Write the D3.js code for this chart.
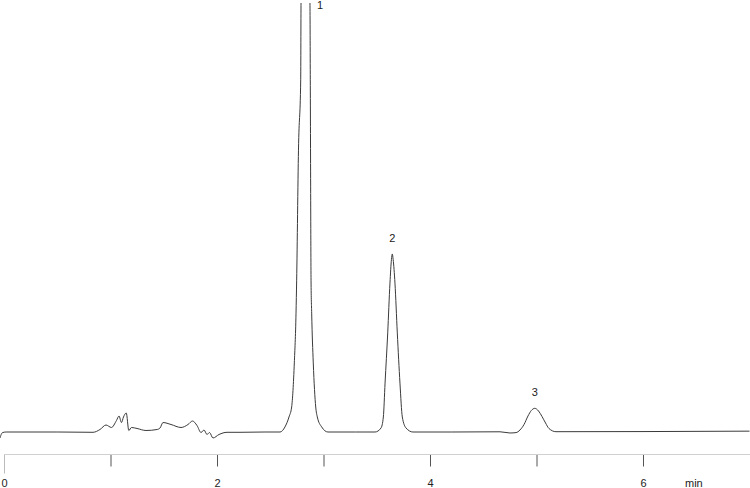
<!DOCTYPE html>
<html>
<head>
<meta charset="utf-8">
<script src="https://cdn.jsdelivr.net/npm/d3@7"></script>
<style>
  body { margin: 0; background: #fff; }
  text { font-family: "Liberation Sans", Arial, sans-serif; fill: #222; }
</style>
</head>
<body>
<div id="chart"></div>
<script>
const traceTime = [
  -0.038, -0.030, -0.015, 0.020, 0.500, 0.836,
  0.901, 0.958, 1.009, 1.056, 1.080, 1.103, 1.122, 1.148, 1.172, 1.197, 1.249,
  1.333, 1.437, 1.465, 1.493, 1.568, 1.662, 1.728, 1.770, 1.812, 1.850, 1.878,
  1.906, 1.930, 1.962, 2.019, 2.094, 2.216, 2.450,
  2.592, 2.638, 2.676, 2.701, 2.726, 2.742, 2.748, 2.765, 2.786, 2.789, 2.831,
  2.873, 2.876, 2.883, 2.889, 2.904, 2.927, 2.942, 2.983, 3.042,
  3.300, 3.484, 3.540, 3.562, 3.578, 3.603, 3.624, 3.638, 3.646, 3.654, 3.671,
  3.693, 3.718, 3.740, 3.775, 3.840,
  4.200, 4.657, 4.751, 4.808, 4.845, 4.883, 4.920, 4.951, 4.984, 5.019, 5.052,
  5.085, 5.117, 5.183, 6.000, 7.000
];
const traceSignal = [
  -1.4, -0.8, -0.15, 0, 0, -0.07,
  0.58, 1.63, 1.05, 2.68, 3.73, 2.21, 3.50, 4.43, 0.35, 1.05, 0.82,
  0.35, 0.58, 0.93, 2.21, 1.75, 1.05, 1.75, 2.56, 1.52, -0.12, 0.47,
  -0.58, -0.12, -1.40, -0.58, -0.07, -0.07, 0,
  0, 1.17, 3.5, 5.83, 16.1, 27.7, 35.4, 65.7, 82.1, 100, 150,
  100, 82.1, 35.4, 27.7, 16.1, 5.83, 3.5, 1.17, 0,
  0, 0, 0.93, 3.5, 11.4, 23.1, 34.7, 40.2, 41.5, 40.2, 34.7,
  23.1, 11.4, 3.5, 0.93, 0,
  0, 0.05, -0.23, -0.14, 0.47, 1.75, 3.73, 5.0, 5.52, 4.9, 3.6,
  2.1, 0.82, 0.07, 0.1, 0.2
];

// Picos identificados
const peakLabels = ["1", "2", "3"];
const peakTimes = [2.831, 3.646, 4.984];
const peakHeights = [150, 41.5, 5.52];

// Eixo de tempo
const tickValues = [0, 1, 2, 3, 4, 5, 6];
const tickLabels = ["0", "", "2", "", "4", "", "6"];
const axisUnit = "min";

function drawChromatogram() {
    const width = 750;
    const height = 488;
    const baseY = 432;
    const topY = 3;
    const axisY = 454.5;

    const x = d3.scaleLinear().domain([0, 7]).range([4, 749.5]);
    const y = d3.scaleLinear().domain([0, 100]).range([baseY, topY]);

    const svg = d3.select("#chart")
        .append("svg")
        .attr("width", width)
        .attr("height", height);

    // Corta o pico 1 que sai da escala
    svg.append("clipPath")
        .attr("id", "plot-clip")
        .append("rect")
        .attr("x", 0)
        .attr("y", topY)
        .attr("width", width)
        .attr("height", axisY - topY - 4);

    const points = traceTime.map((t, i) => [t, traceSignal[i]]);
    const line = d3.line()
        .x(d => x(d[0]))
        .y(d => y(d[1]))
        .curve(d3.curveMonotoneX);

    svg.append("path")
        .datum(points)
        .attr("clip-path", "url(#plot-clip)")
        .attr("d", line)
        .attr("fill", "none")
        .attr("stroke", "#3a3a3a")
        .attr("stroke-width", 1);

    // Rótulos dos picos
    svg.selectAll(".peak-label")
        .data(peakLabels)
        .enter()
        .append("text")
        .attr("class", "peak-label")
        .attr("x", (d, i) => x(peakTimes[i]) + (peakHeights[i] > 100 ? 14.5 : 0))
        .attr("y", (d, i) => Math.max(y(peakHeights[i]) - 12, 9))
        .attr("text-anchor", "middle")
        .style("font-size", "11px")
        .text(d => d);

    // Eixo x
    const axis = d3.axisBottom(x)
        .tickValues(tickValues)
        .tickSize(12)
        .tickPadding(13)
        .tickFormat((d, i) => tickLabels[i]);

    const gAxis = svg.append("g")
        .attr("transform", `translate(0,${axisY})`)
        .call(axis);

    gAxis.select(".domain").remove();
    gAxis.append("line")
        .attr("x1", x(0))
        .attr("x2", width)
        .attr("y1", 0)
        .attr("y2", 0)
        .attr("stroke", "#d0d0d0");
    gAxis.selectAll(".tick line").attr("stroke", "#555");
    gAxis.selectAll(".tick").filter(d => d === 0).select("line")
        .attr("y2", 19)
        .attr("stroke", "#bbb");
    gAxis.selectAll(".tick text")
        .attr("font-family", null)
        .style("font-size", "11px");

    svg.append("text")
        .attr("x", 685)
        .attr("y", 487)
        .style("font-size", "11px")
        .text(axisUnit);
}

drawChromatogram();
</script>
</body>
</html>
